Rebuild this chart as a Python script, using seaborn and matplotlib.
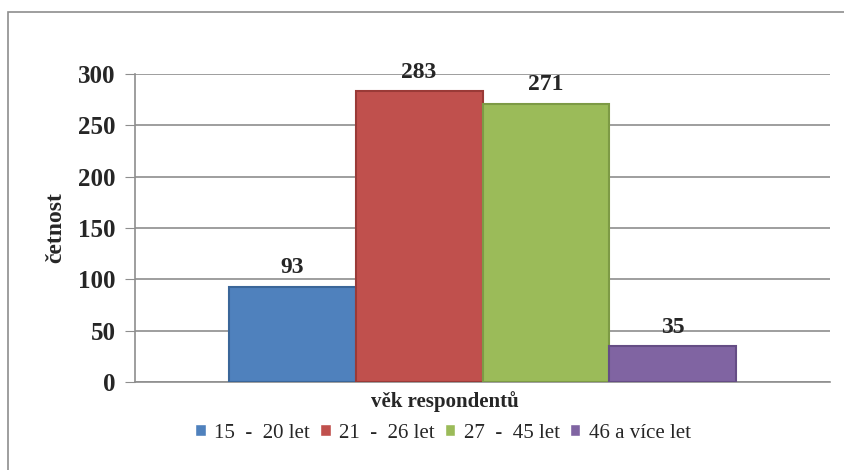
import pandas as pd
import matplotlib.pyplot as plt
import seaborn as sns
from matplotlib.patches import Rectangle

groups = ["15  -  20 let", "21  -  26 let", "27  -  45 let", "46 a více let"]
counts = [93, 283, 271, 35]
colors = ["#4F81BD", "#C0504D", "#9BBB59", "#8064A2"]
edges = ["#3A6699", "#9A3A37", "#7D9A45", "#654D85"]

df = pd.DataFrame({"věk": [""] * 4, "skupina": groups, "četnost": counts})

sns.set_style("white")
plt.rcParams["font.family"] = ["Liberation Serif", "DejaVu Serif"]

fig = plt.figure(figsize=(8.44, 4.70), dpi=100)
ax = fig.add_axes([135 / 844, 1 - 382 / 470, 695 / 844, 308 / 470])

sns.barplot(data=df, x="věk", y="četnost", hue="skupina", palette=colors,
            saturation=1, width=0.73, ax=ax, legend=True, zorder=3)

for patch, ec in zip(ax.patches, edges):
    patch.set_edgecolor(ec)
    patch.set_linewidth(1.5)

for cont in ax.containers:
    ax.bar_label(cont, padding=6, fontsize=17, fontweight="bold")

ax.set_ylim(0, 300)
ax.set_yticks([0, 50, 100, 150, 200, 250, 300])
ax.set_xlim(-0.5, 0.5)
ax.yaxis.grid(True, color="#8E8E8E", linewidth=1.2, zorder=0)
ax.set_axisbelow(True)
for s in ["top", "right"]:
    ax.spines[s].set_visible(False)
for s in ["left", "bottom"]:
    ax.spines[s].set_color("#8E8E8E")
    ax.spines[s].set_linewidth(1.2)
ax.tick_params(axis="y", left=True, length=7, color="#8E8E8E", labelsize=18, pad=7)
ax.tick_params(axis="x", bottom=False, labelbottom=False)
for lbl in ax.get_yticklabels():
    lbl.set_fontweight("bold")

ax.set_ylabel("četnost", fontsize=17, fontweight="bold")
ax.yaxis.set_label_coords((66 - 135) / 695, 0.5)
ax.set_xlabel("věk respondentů", fontsize=15, fontweight="bold")
ax.xaxis.set_label_coords((445 - 135) / 695, (382 - 402) / 308)
ax.xaxis.label.set_va("center")

handles, labels = ax.get_legend_handles_labels()
ax.legend_.remove()
fig.legend(handles, labels, loc="center", bbox_to_anchor=(443 / 844, 1 - 433 / 470),
           ncol=4, frameon=False, fontsize=15, handlelength=0.5, handleheight=0.5,
           handletextpad=0.4, columnspacing=0.5)

fig.patches.append(Rectangle((8 / 844, -0.1), 1.1, 1.1 - 12 / 470,
                             transform=fig.transFigure, fill=False,
                             edgecolor="#8E8E8E", linewidth=1.2))

fig.savefig("out.png", dpi=100)
plt.close(fig)
